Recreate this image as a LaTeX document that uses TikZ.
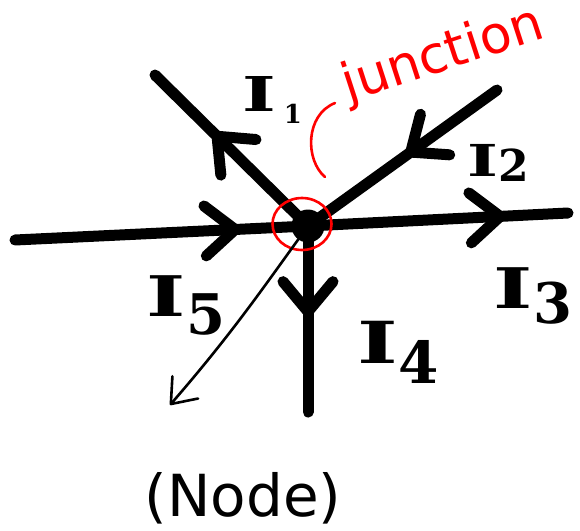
\documentclass[tikz,border=0pt]{standalone}
\usepackage{fontspec}
\usepackage{graphicx}
\setmainfont{DejaVu Sans}
\newfontfamily\lblfont{DejaVu Serif}
\usetikzlibrary{arrows.meta,decorations.markings,shapes.geometric}
\newcommand\wideI{\scalebox{1.5}[1]{I}}
\begin{document}
\begin{tikzpicture}[x=1pt,y=-1pt,
  wire/.style={line width=11pt,line cap=round,line join=round},
  midarrow/.style={postaction={decorate},decoration={markings,
    mark=at position #1 with {\arrow{Straight Barb[length=30pt,width=50pt,line width=11pt,round]}}}},
  lbl/.style={inner sep=0pt},
  thinpen/.style={line width=2.6pt,line cap=round,line join=round},
]
\useasboundingbox (0,0) rectangle (580,530);
% junction
\node[circle,fill=black,inner sep=0pt,minimum size=33pt] (J) at (308,226) {};
\coordinate (L) at (15,240);
\coordinate (R) at (568,213);
\coordinate (UL) at (155,75);
\coordinate (UR) at (497,90);
\coordinate (D) at (308,412);
\coordinate (N) at (170,405);
% wires
\draw[wire,midarrow=0.77] (L) -- (J.center);
\draw[wire,midarrow=0.76] (J.center) -- (R);
\draw[wire,midarrow=0.62] (J.center) -- (UL);
\draw[wire,midarrow=0.48] (UR) -- (J.center);
\draw[wire,midarrow=0.49] (J.center) -- (D);
% red ring
\node[draw=red,ellipse,line width=2.6pt,minimum width=59pt,minimum height=52pt,inner sep=0pt] (Jc) at (302,224) {};
% node pointer
\draw[thinpen,-{Straight Barb[length=22pt,width=34pt,line width=2.6pt,round]}] (J.center) .. controls (265,285) and (235,330) .. (N);
% labels
\node[lbl,font=\lblfont\bfseries\fontsize{48}{48}\selectfont] (I1) at (272,100) {\wideI\,\raisebox{-12pt}{\fontsize{26}{26}\selectfont 1}};
\node[lbl,font=\lblfont\bfseries\fontsize{44}{44}\selectfont] (I2) at (498,163) {\wideI\raisebox{-5pt}{2}};
\node[lbl,font=\lblfont\bfseries\fontsize{56}{56}\selectfont] (I3) at (533,296) {\wideI\raisebox{-15pt}{3}};
\node[lbl,font=\lblfont\bfseries\fontsize{58}{58}\selectfont] (I4) at (398,352) {\wideI\raisebox{-20pt}{4}};
\node[lbl,font=\lblfont\bfseries\fontsize{56}{56}\selectfont] (I5) at (186,305) {\wideI\raisebox{-18pt}{5}};
% red annotation
\node[lbl,text=red,rotate=18,font=\fontsize{52}{52}\selectfont] (jt) at (443,56) {junction};
\draw[red,thinpen] (335,103) .. controls (305,115) and (305,160) .. (325,177);
\node[lbl,font=\fontsize{58}{58}\selectfont] (nd) at (243,498) {(Node)};
\end{tikzpicture}
\end{document}
